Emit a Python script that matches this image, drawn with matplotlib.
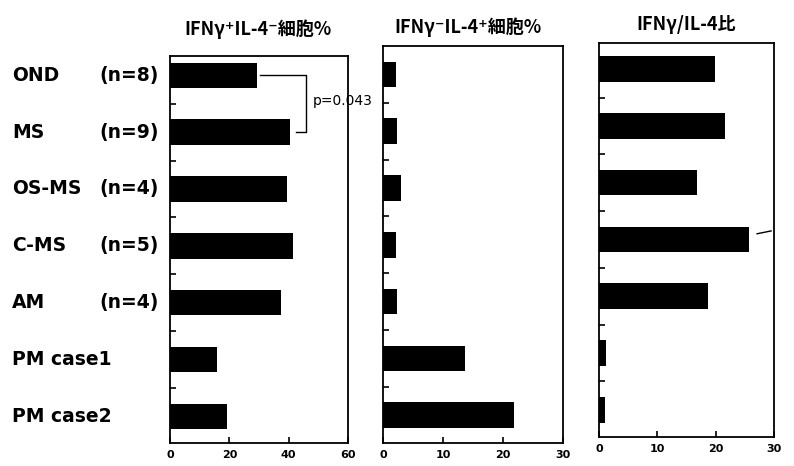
import matplotlib
matplotlib.use("Agg")
import matplotlib.pyplot as plt
from matplotlib.transforms import blended_transform_factory

plt.rcParams['font.family'] = ['Noto Sans CJK JP', 'DejaVu Sans']

# données
groups = ["OND", "MS", "OS-MS", "C-MS", "AM", "PM case1", "PM case2"]
n_labels = ["(n=8)", "(n=9)", "(n=4)", "(n=5)", "(n=4)", "", ""]
ifn_pos = [29.2, 40.4, 39.3, 41.5, 37.4, 15.9, 19.1]
il4_pos = [2.2, 2.4, 3.0, 2.1, 2.4, 13.7, 21.8]
ratio = [19.9, 21.6, 16.8, 25.7, 18.7, 1.2, 1.0]

titles = ["IFNγ⁺IL-4⁻細胞%", "IFNγ⁻IL-4⁺細胞%", "IFNγ/IL-4比"]
xmax = [60, 30, 30]
xticks = [[0, 20, 40, 60], [0, 10, 20, 30], [0, 10, 20, 30]]

fig = plt.figure(figsize=(7.94, 4.66), dpi=100)

# positions des panneaux (pixels -> fraction)
W, H = 794, 466
boxes = [(170, 348, 56, 443), (383, 563, 46, 443), (599, 774, 43, 437)]
ytops = [-0.34, -0.50, -0.46]
ybots = [6.47, 6.49, 6.48]
title_x = [258, 468, 686]
title_y = [29, 27, 25]

axes = []
for i, vals in enumerate([ifn_pos, il4_pos, ratio]):
    l, r, t, b = boxes[i]
    ax = fig.add_axes([l / W, 1 - b / H, (r - l) / W, (b - t) / H])
    ax.barh(range(len(groups)), vals, height=0.45, color='black')
    ax.set_xlim(0, xmax[i])
    ax.set_ylim(ybots[i], ytops[i])
    ax.set_yticks([k + 0.5 for k in range(len(groups) - 1)])
    ax.set_yticklabels([])
    ax.tick_params(axis='y', direction='in', length=4, width=1.2, left=True, right=False)
    ax.set_xticks(xticks[i])
    ax.set_xticklabels([str(v) for v in xticks[i]], fontsize=8, fontweight='bold',
                       family=['DejaVu Sans'])
    ax.tick_params(axis='x', direction='in', length=4, width=1.2, pad=5)
    for s in ax.spines.values():
        s.set_linewidth(1.3)
    fig.text(title_x[i] / W, 1 - title_y[i] / H, titles[i], ha='center', va='center',
             fontsize=13, fontweight='bold')
    axes.append(ax)

ax1 = axes[0]

# libellés des groupes
tr = blended_transform_factory(fig.transFigure, ax1.transData)
for k, g in enumerate(groups):
    ax1.text(12 / W, k, g, transform=tr, ha='left', va='center', fontsize=13.5,
             fontweight='bold', family=['DejaVu Sans'])
    if n_labels[k]:
        ax1.text(99 / W, k, n_labels[k], transform=tr, ha='left', va='center', fontsize=13.5,
                 fontweight='bold', family=['DejaVu Sans'])

# crochet p-value
ax1.plot([30.3, 45.8, 45.8, 42.4], [0, 0, 1, 1], color='black', lw=1, clip_on=False)
ax1.text(48.1, 0.45, "p=0.043", ha='left', va='center', fontsize=10, clip_on=False,
         family=['DejaVu Sans'])

# petit trait dans le panneau 3
axes[2].plot([27.1, 29.5], [2.9, 2.85], color='black', lw=1)

fig.savefig("out.png", dpi=100)
